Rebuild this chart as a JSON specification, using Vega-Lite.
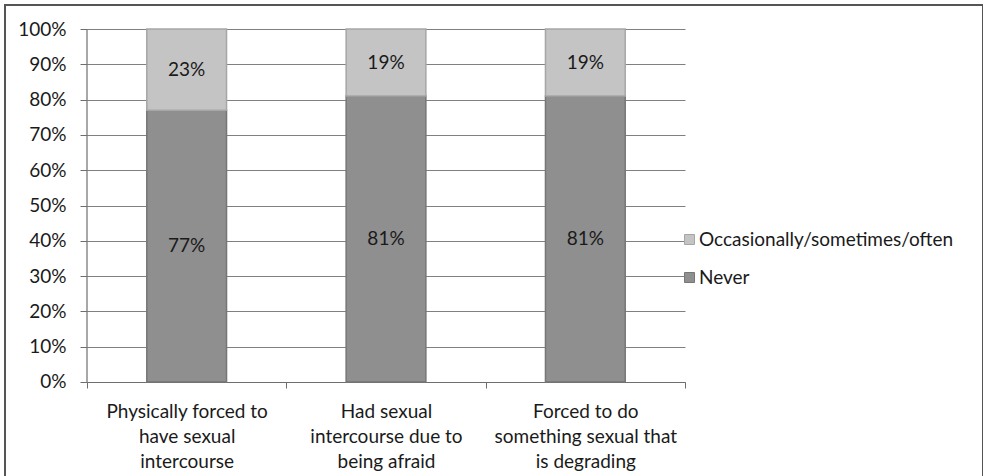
{
  "$schema": "https://vega.github.io/schema/vega-lite/v6.json",
  "width": 978,
  "height": 480,
  "autosize": {"type": "none"},
  "padding": {"left": 5, "top": 5, "right": 0, "bottom": 0},
  "background": "white",
  "config": {
    "view": {"stroke": "#555555", "strokeWidth": 2},
    "font": "Lato",
    "text": {"font": "Lato"}
  },
  "data": {
    "values": [
      {"item": "Physically forced to have sexual intercourse", "response": "Never", "share": 0.77},
      {"item": "Physically forced to have sexual intercourse", "response": "Occasionally/sometimes/often", "share": 0.23},
      {"item": "Had sexual intercourse due to being afraid", "response": "Never", "share": 0.81},
      {"item": "Had sexual intercourse due to being afraid", "response": "Occasionally/sometimes/often", "share": 0.19},
      {"item": "Forced to do something sexual that is degrading", "response": "Never", "share": 0.81},
      {"item": "Forced to do something sexual that is degrading", "response": "Occasionally/sometimes/often", "share": 0.19}
    ]
  },
  "encoding": {
    "x": {
      "field": "item",
      "type": "nominal",
      "sort": null,
      "scale": {"range": [82, 680], "paddingInner": 0, "paddingOuter": 0},
      "axis": {
        "orient": "bottom",
        "offset": -103,
        "title": null,
        "labelAngle": 0,
        "domainColor": "#6e6e6e",
        "domainWidth": 1.2,
        "tickBand": "extent",
        "tickColor": "#6e6e6e",
        "tickSize": 6,
        "labelPadding": 14,
        "labelFont": "Lato",
        "labelFontSize": 19,
        "labelLineHeight": 25,
        "labelBaseline": "top",
        "labelColor": "#1a1a1a",
        "labelLimit": 0,
        "labelExpr": "datum.value == 'Physically forced to have sexual intercourse' ? ['Physically forced to', 'have sexual', 'intercourse'] : datum.value == 'Had sexual intercourse due to being afraid' ? ['Had sexual', 'intercourse due to', 'being afraid'] : datum.value == 'Forced to do something sexual that is degrading' ? ['Forced to do', 'something sexual that', 'is degrading'] : ''"
      }
    }
  },
  "layer": [
    {
      "mark": {"type": "bar", "width": {"band": 0.4}, "strokeWidth": 1.5},
      "encoding": {
        "y": {
          "field": "share",
          "type": "quantitative",
          "stack": "zero",
          "scale": {"domain": [-0.2918, 1.068], "nice": false, "zero": false},
          "axis": {
            "orient": "left",
            "offset": -82,
            "title": null,
            "values": [0, 0.1, 0.2, 0.3, 0.4, 0.5, 0.6, 0.7, 0.8, 0.9, 1],
            "format": ".0%",
            "grid": true,
            "gridColor": "#808080",
            "gridWidth": 1,
            "domain": false,
            "tickColor": "#6e6e6e",
            "tickSize": 7,
            "labelPadding": 14,
            "labelFont": "Lato",
            "labelFontSize": 19,
            "labelColor": "#1a1a1a"
          }
        },
        "color": {
          "field": "response",
          "type": "nominal",
          "scale": {
            "domain": ["Occasionally/sometimes/often", "Never"],
            "range": ["#c4c4c4", "#8f8f8f"]
          },
          "legend": {
            "orient": "none",
            "legendX": 675,
            "legendY": 225,
            "title": null,
            "padding": 0,
            "symbolType": "square",
            "symbolSize": 100,
            "symbolStrokeColor": "#7a7a7a",
            "symbolStrokeWidth": 1,
            "labelOffset": 0,
            "labelFont": "Lato",
            "labelFontSize": 19,
            "labelColor": "#1a1a1a",
            "labelLimit": 0,
            "rowPadding": 18
          }
        },
        "stroke": {
          "field": "response",
          "type": "nominal",
          "scale": {
            "domain": ["Occasionally/sometimes/often", "Never"],
            "range": ["#a6a6a6", "#767676"]
          },
          "legend": null
        },
        "order": {"field": "response", "sort": "ascending"}
      }
    },
    {
      "mark": {"type": "text", "align": "center", "baseline": "middle", "fontSize": 19, "color": "#1a1a1a"},
      "encoding": {
        "y": {"field": "share", "type": "quantitative", "stack": "zero", "bandPosition": 0.5},
        "text": {"field": "share", "type": "quantitative", "format": ".0%"},
        "detail": {"field": "response"},
        "order": {"field": "response", "sort": "ascending"}
      }
    },
    {
      "data": {"values": [{}]},
      "mark": {"type": "rule", "color": "#6e6e6e", "strokeWidth": 1.2},
      "encoding": {
        "x": {"datum": "Physically forced to have sexual intercourse", "type": "nominal", "bandPosition": 0},
        "y": {"datum": 0, "type": "quantitative"},
        "y2": {"datum": 1}
      }
    }
  ]
}
